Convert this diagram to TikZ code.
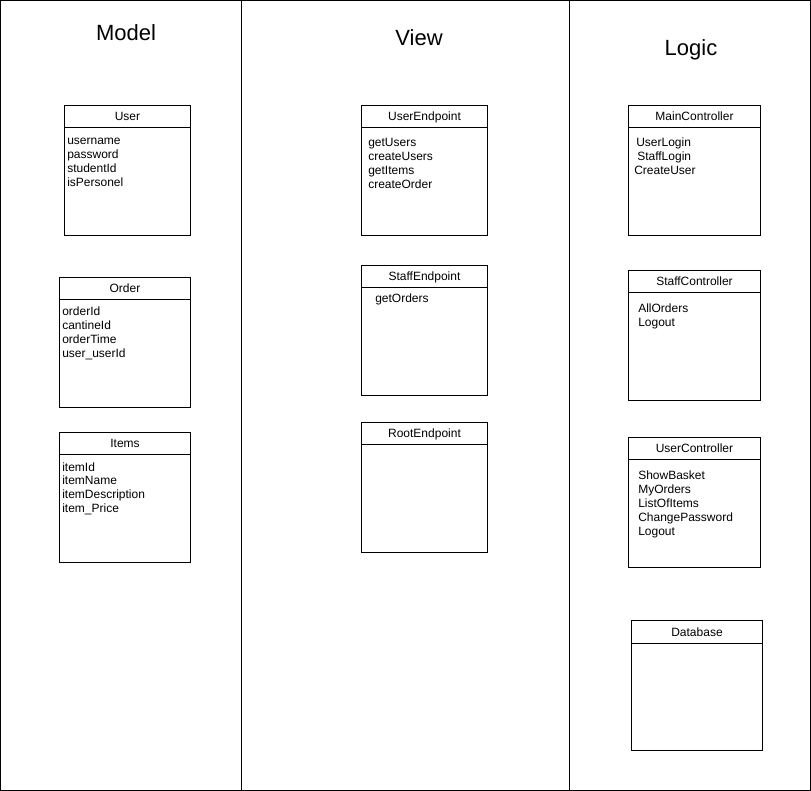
\documentclass[tikz,border=0pt]{standalone}
\usepackage{fontspec}
\setmainfont{Liberation Sans}
\usetikzlibrary{calc}
\begin{document}
\begin{tikzpicture}[x=0.75pt,y=-0.75pt,
  frame/.style={draw=black,line width=0.75pt},
  cls/.style={draw=black,line width=0.75pt,fill=white,rectangle,inner sep=0pt,anchor=north west,minimum width=#1*0.75pt,minimum height=97.5pt},
  cls/.default=126,
  head/.style={anchor=base,inner sep=0pt,font=\fontsize{9}{10.5}\selectfont},
  items/.style={anchor=base west,inner sep=0pt,align=left,font=\fontsize{9}{10.5}\selectfont},
  big/.style={anchor=base,inner sep=0pt,font=\fontsize{16.5}{18}\selectfont}]
\useasboundingbox (0,0) rectangle (811,791);
\fill[white] (0,0) rectangle (811,791);
\draw[frame] (0.5,0.5) rectangle (810.5,790.5);
\coordinate (d1t) at (241,0.5); \coordinate (d1b) at (241,790.5);
\coordinate (d2t) at (569,0.5); \coordinate (d2b) at (569,790.5);
\draw[frame] (d1t) -- (d1b);
\draw[frame] (d2t) -- (d2b);
% titles
\node[big] (tmodel) at (126,41) {Model};
\node[big] (tview) at (419,46) {View};
\node[big] (tlogic) at (691,56) {Logic};
% boxes
\node[cls] (user) at (64,105) {};
\node[cls=131] (order) at (59,277) {};
\node[cls=131] (items) at (59,432) {};
\node[cls] (uep) at (361,105) {};
\node[cls] (sep) at (361,265) {};
\node[cls] (rep) at (361,422) {};
\node[cls=132] (mc) at (628,105) {};
\node[cls=132] (sc) at (628,270) {};
\node[cls=132] (uc) at (628,437) {};
\node[cls=131] (db) at (631,620) {};
% header lines
\foreach \b in {user,order,items,uep,sep,rep,mc,sc,uc,db}{
  \draw[frame] ($(\b.north west)+(0,23)$) -- ($(\b.north east)+(0,23)$);
}
% headers
\node[head] (huser) at ($(user.north)+(0,16)$) {User};
\node[head] (horder) at ($(order.north)+(0,16)$) {Order};
\node[head] (hitems) at ($(items.north)+(0,16)$) {Items};
\node[head] (huep) at ($(uep.north)+(0,16)$) {UserEndpoint};
\node[head] (hsep) at ($(sep.north)+(0,16)$) {StaffEndpoint};
\node[head] (hrep) at ($(rep.north)+(0,16)$) {RootEndpoint};
\node[head] (hmc) at ($(mc.north)+(0,16)$) {MainController};
\node[head] (hsc) at ($(sc.north)+(0,16)$) {StaffController};
\node[head] (huc) at ($(uc.north)+(0,16)$) {UserController};
\node[head] (hdb) at ($(db.north)+(0,16)$) {Database};
% members (base anchor = baseline of the last line)
\node[items] (luser) at (67,187) {username\\password\\studentId\\isPersonel};
\node[items] (lorder) at (62,358) {orderId\\cantineId\\orderTime\\user\_userId};
\node[items] (litems) at (62,513) {itemId\\itemName\\itemDescription\\item\_Price};
\node[items] (luep) at (368,189) {getUsers\\createUsers\\getItems\\createOrder};
\node[items] (lsep) at (375,303) {getOrders};
\node[items] (lmc1) at (636,147) {UserLogin};
\node[items] (lmc2) at (637,161) {StaffLogin};
\node[items] (lmc3) at (634,175) {CreateUser};
\node[items] (lsc) at (638,327) {AllOrders\\Logout};
\node[items] (luc) at (638,536) {ShowBasket\\MyOrders\\ListOfItems\\ChangePassword\\Logout};
\end{tikzpicture}
\end{document}
